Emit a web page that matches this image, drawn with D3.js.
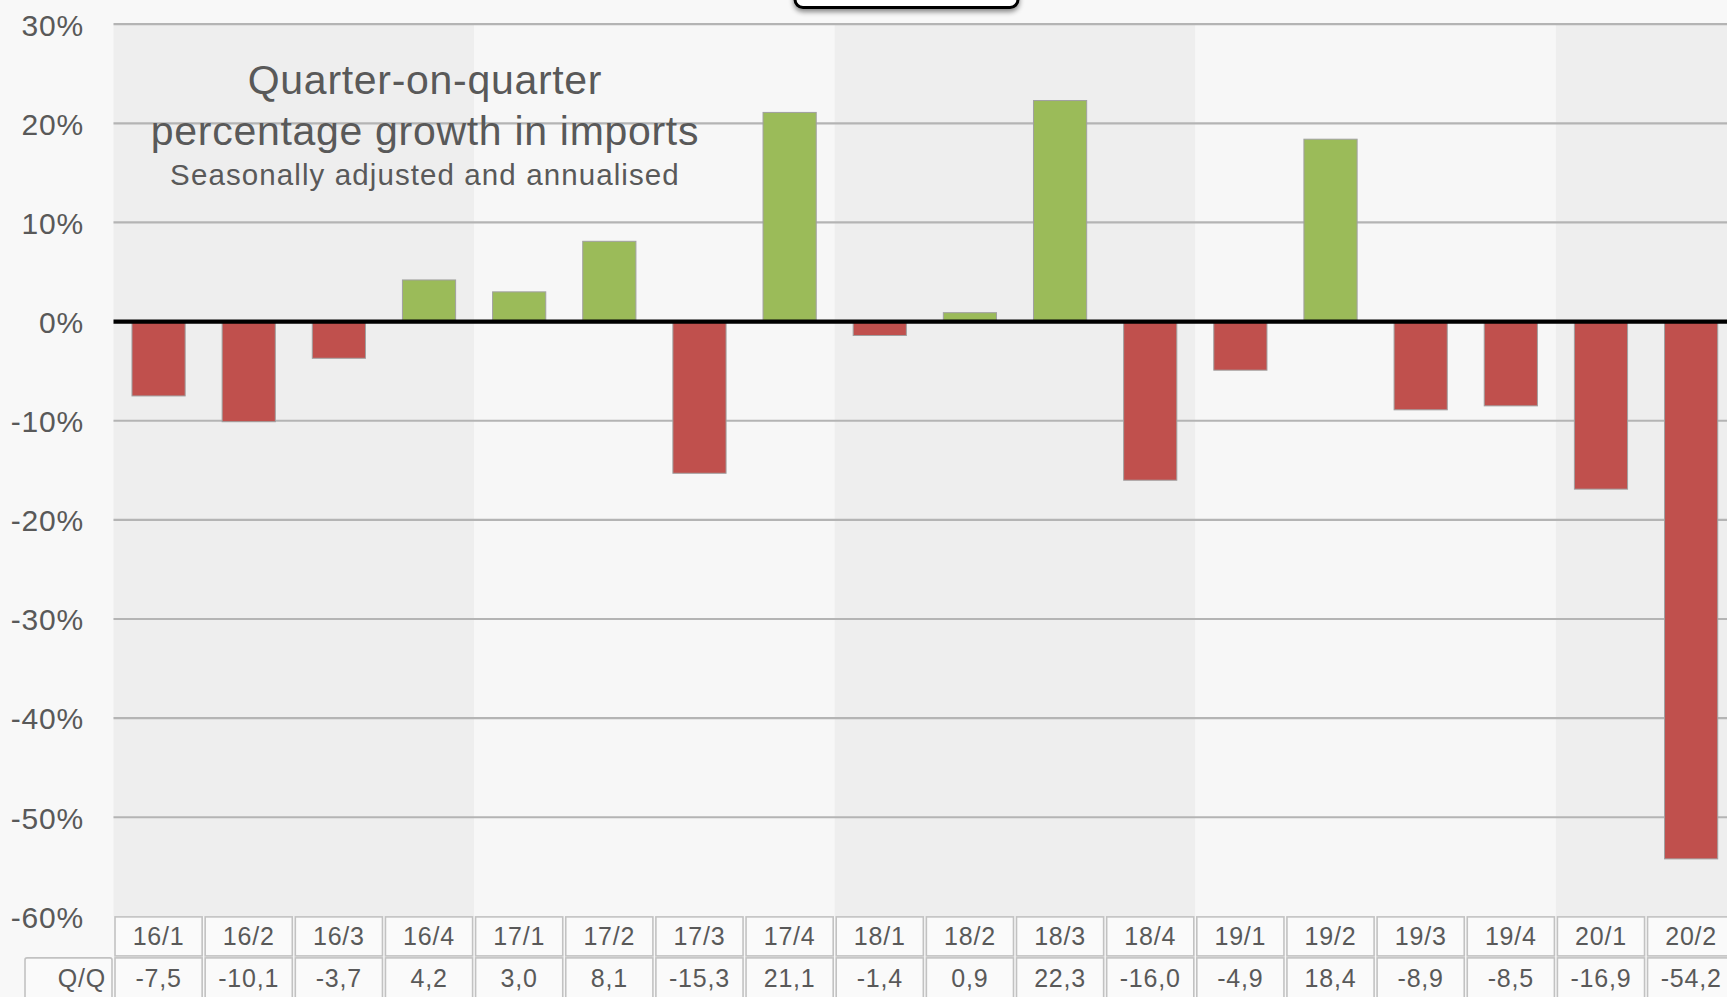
<!DOCTYPE html>
<meta charset="utf-8">
<title>Quarter-on-quarter growth in imports</title>
<style>
  html, body { margin: 0; padding: 0; background: #f8f8f8; overflow: hidden; }
  text { font-family: "Liberation Sans", Arial, sans-serif; fill: #595959; }
</style>
<body>
<script src="https://d3js.org/d3.v7.min.js"></script>
<script>

// quarters (yy/q) and seasonally adjusted, annualised q/q growth of imports, %
var quarters = ["16/1", "16/2", "16/3", "16/4", "17/1", "17/2", "17/3", "17/4", "18/1",
                "18/2", "18/3", "18/4", "19/1", "19/2", "19/3", "19/4", "20/1", "20/2"];
var growth = [-7.5, -10.1, -3.7, 4.2, 3.0, 8.1, -15.3, 21.1, -1.4,
              0.9, 22.3, -16.0, -4.9, 18.4, -8.9, -8.5, -16.9, -54.2];
var yTicks = [30, 20, 10, 0, -10, -20, -30, -40, -50, -60];
var rowLabel = "Q/Q";
var titleLines = ["Quarter-on-quarter", "percentage growth in imports"];
var subtitle = "Seasonally adjusted and annualised";

var width = 1727,
    height = 997,
    plotLeft = 113.5,
    step = 90.15,   // width of one quarter
    plotTop = 24.2,
    plotBottom = 916.4,
    rowH = 41;

var fmt = d3.formatLocale({decimal: ",", thousands: ".", grouping: [3], currency: ["", ""], minus: "-"})
  .format(".1f");

var svg = d3.select("body").append("svg")
  .attr("width", width)
  .attr("height", height)
  .style("display", "block");

var defs = svg.append("defs");
var shadow = defs.append("filter").attr("id", "shadow")
  .attr("x", "-10%").attr("y", "-10%").attr("width", "120%").attr("height", "160%");
shadow.append("feDropShadow")
  .attr("dx", 0).attr("dy", 3).attr("stdDeviation", 2.5)
  .attr("flood-color", "#000").attr("flood-opacity", 0.45);

var xCell = d3.scaleBand()
  .domain(quarters)
  .range([plotLeft, plotLeft + step * quarters.length]);

var x = d3.scaleBand()
  .domain(quarters)
  .range(xCell.range())
  .paddingInner(0.41)
  .paddingOuter(0.205);

var y = d3.scaleLinear()
  .domain([-60, 30])
  .range([plotBottom, plotTop]);

// alternate shading per year
var years = Array.from(d3.group(quarters, function (q) { return q.split("/")[0]; }));
svg.append("g").selectAll("rect")
  .data(years)
  .join("rect")
  .attr("x", function (d) { return xCell(d[1][0]); })
  .attr("y", plotTop)
  .attr("width", function (d) { return xCell.step() * d[1].length; })
  .attr("height", plotBottom - plotTop)
  .attr("fill", function (d, i) { return i % 2 === 0 ? "#eeeeee" : "#f7f7f7"; });

// gridlines
svg.append("g").selectAll("line")
  .data(yTicks.filter(function (t) { return t !== 0 && t !== -60; }))
  .join("line")
  .attr("x1", plotLeft)
  .attr("x2", width + 20)
  .attr("y1", function (d) { return y(d); })
  .attr("y2", function (d) { return y(d); })
  .attr("stroke", "#b4b4b4")
  .attr("stroke-width", 2.2);

// y axis labels
var yAxis = d3.axisLeft(y)
  .tickValues(yTicks)
  .tickSize(0)
  .tickPadding(0)
  .tickFormat(function (d) { return d + "%"; });

svg.append("g")
  .attr("transform", "translate(84,0)")
  .call(yAxis)
  .call(function (g) { g.select(".domain").remove(); })
  .selectAll("text")
  .attr("font-family", null)
  .style("font-size", "30px")
  .style("letter-spacing", "0.8px")
  .attr("dy", "0.36em");

// bars
svg.append("g").selectAll("rect")
  .data(quarters)
  .join("rect")
  .attr("x", function (q) { return x(q); })
  .attr("width", x.bandwidth())
  .attr("y", function (q, i) { return y(Math.max(0, growth[i])); })
  .attr("height", function (q, i) { return Math.abs(y(growth[i]) - y(0)); })
  .attr("fill", function (q, i) { return growth[i] >= 0 ? "#9bbb59" : "#c0504d"; })
  .attr("stroke", "#a0a0a0")
  .attr("stroke-width", 1);

// zero line
svg.append("line")
  .attr("x1", plotLeft)
  .attr("x2", width + 20)
  .attr("y1", y(0))
  .attr("y2", y(0))
  .attr("stroke", "#000")
  .attr("stroke-width", 4.3);

// title block
var title = svg.append("g").attr("text-anchor", "middle");
title.selectAll("text.t")
  .data(titleLines)
  .join("text")
  .attr("class", "t")
  .attr("x", 425)
  .attr("y", function (d, i) { return 94 + i * 51; })
  .style("font-size", "41px")
  .style("letter-spacing", "0.7px")
  .text(function (d) { return d; });
title.append("text")
  .attr("x", 425)
  .attr("y", 185)
  .style("font-size", "29.5px")
  .style("letter-spacing", "1.1px")
  .text(subtitle);

// box sticking in from the top edge
svg.append("rect")
  .attr("x", 795)
  .attr("y", -40)
  .attr("width", 223)
  .attr("height", 47.5)
  .attr("rx", 8)
  .attr("fill", "#fff")
  .attr("stroke", "#000")
  .attr("stroke-width", 3)
  .attr("filter", "url(#shadow)");

// data table under the axis
var table = svg.append("g");

table.selectAll("rect.head")
  .data(quarters)
  .join("rect")
  .attr("class", "head")
  .attr("x", function (q) { return xCell(q) + 1.5; })
  .attr("y", plotBottom + 0.5)
  .attr("width", xCell.step() - 3)
  .attr("height", rowH - 2)
  .attr("fill", "#fafafa")
  .attr("stroke", "#c2c2c2")
  .attr("stroke-width", 1.6);

table.selectAll("rect.val")
  .data(quarters)
  .join("rect")
  .attr("class", "val")
  .attr("x", function (q) { return xCell(q) + 1.5; })
  .attr("y", plotBottom + rowH + 0.5)
  .attr("width", xCell.step() - 3)
  .attr("height", rowH + 10)
  .attr("fill", "#fafafa")
  .attr("stroke", "#c2c2c2")
  .attr("stroke-width", 1.6);

table.append("rect")
  .attr("x", 25)
  .attr("y", plotBottom + rowH + 0.5)
  .attr("width", plotLeft - 25 - 1.5)
  .attr("height", rowH + 10)
  .attr("rx", 2)
  .attr("fill", "#fafafa")
  .attr("stroke", "#c2c2c2")
  .attr("stroke-width", 1.6);

table.selectAll("text.head")
  .data(quarters)
  .join("text")
  .attr("class", "head")
  .attr("x", function (q) { return xCell(q) + xCell.step() / 2; })
  .attr("y", 945)
  .attr("text-anchor", "middle")
  .style("font-size", "25px")
  .style("letter-spacing", "0.8px")
  .text(function (q) { return q; });

table.selectAll("text.val")
  .data(growth)
  .join("text")
  .attr("class", "val")
  .attr("x", function (d, i) { return xCell(quarters[i]) + xCell.step() / 2; })
  .attr("y", 987)
  .attr("text-anchor", "middle")
  .style("font-size", "25px")
  .style("letter-spacing", "0.8px")
  .text(function (d) { return fmt(d); });

table.append("text")
  .attr("x", 106)
  .attr("y", 987)
  .attr("text-anchor", "end")
  .style("font-size", "25px")
  .style("letter-spacing", "0.8px")
  .text(rowLabel);

</script>
</body>
